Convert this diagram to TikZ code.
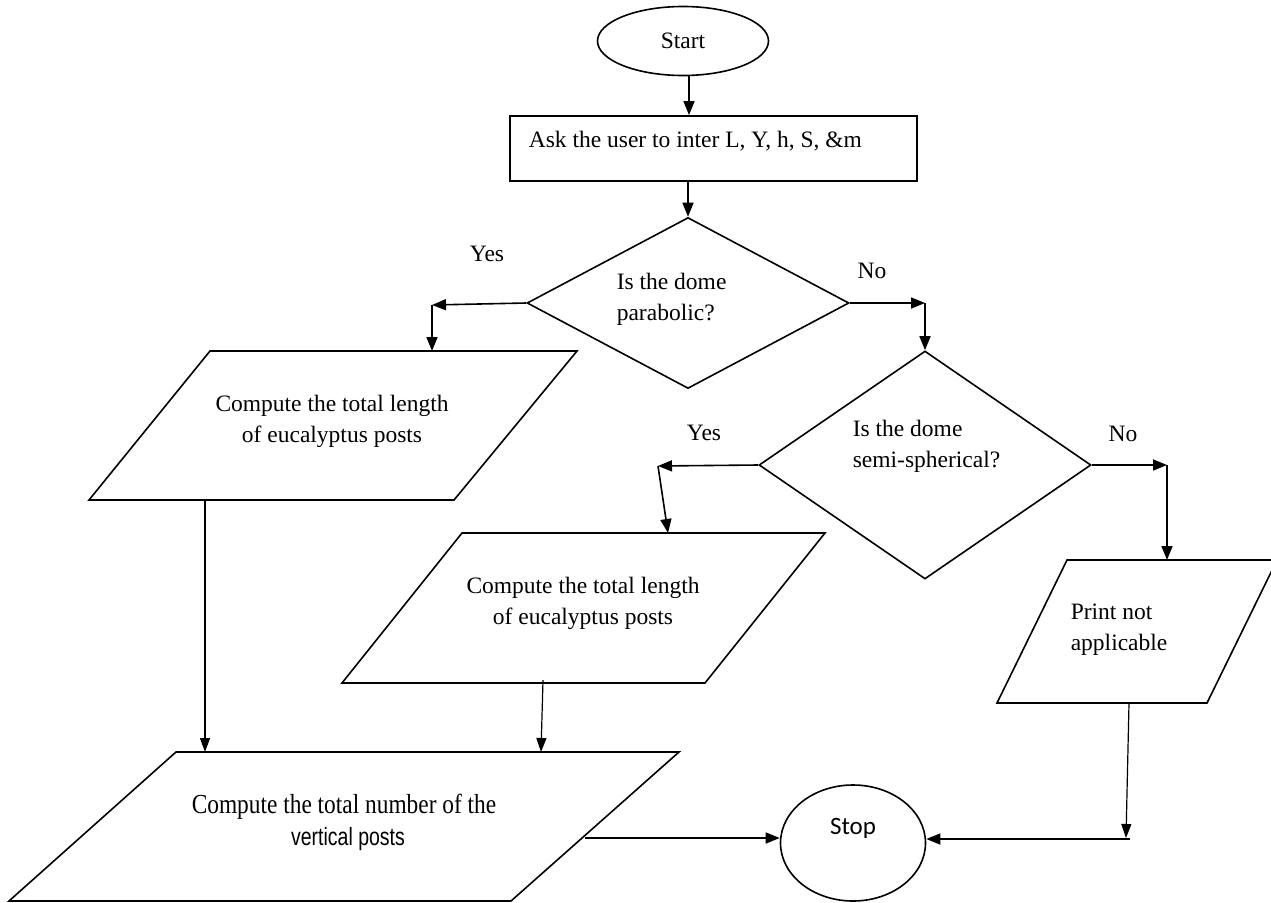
\documentclass[tikz,border=0pt]{standalone}
\usepackage{graphicx}
\usepackage{fontspec}
\setmainfont{Liberation Serif}
\newfontfamily\stopfont{Carlito}
\newfontfamily\narrowsans{Liberation Sans}
\usetikzlibrary{shapes.geometric,arrows.meta}

\begin{document}
\begin{tikzpicture}[x=1pt,y=-1pt,
  line width=1.6pt,
  every node/.style={font=\fontsize{23.5}{31}\selectfont},
  box/.style={draw, rectangle, inner sep=0pt, line width=1.8pt},
  term/.style={draw, ellipse, inner sep=0pt, line width=1.6pt},
  dec/.style={draw, diamond, inner sep=0pt, line width=1.6pt},
  lbl/.style={inner sep=0pt},
  txt/.style={inner sep=0pt, align=left},
  ctxt/.style={inner sep=0pt, align=center},
  arr/.style={-{Triangle[length=14pt,width=11pt]}, line width=1.6pt},
  thinarr/.style={-{Triangle[length=14pt,width=10pt]}, line width=1.2pt},
  pgram/.style={draw, line width=1.6pt, line join=miter}
]
\useasboundingbox (0,0) rectangle (1271,902);
\fill[white] (0,0) rectangle (1271,902);

% Start and input
\node[term, minimum width=171pt, minimum height=69pt] (start) at (683,41) {Start};
\node[box, minimum width=407pt, minimum height=65pt] (ask) at (713.5,148.5) {};
\node[lbl, anchor=base west] (asktxt) at (528,147) {Ask the user to inter L, Y, h, S, \&m};

% Decision 1
\node[dec, minimum width=322pt, minimum height=171pt] (d1) at (688,303) {};
\node[txt, anchor=west] (d1txt) at (616,299) {Is the dome\\parabolic?};
\node[lbl] (yes1) at (487,254) {Yes};
\node[lbl] (no1) at (872,271) {No};
\coordinate (y1) at (432,305);
\coordinate (n1) at (925,303);

% Parallelogram 1
\coordinate (p1a) at (210,351);
\coordinate (p1b) at (577,351);
\coordinate (p1c) at (454,500);
\coordinate (p1d) at (89,500);
\draw[pgram] (p1a) -- (p1b) -- (p1c) -- (p1d) -- cycle;
\node[ctxt] (p1txt) at (332,421) {Compute the total length\\of eucalyptus posts};
\coordinate (p1in) at (432,351);
\coordinate (p1out) at (205,500);

% Decision 2
\node[dec, minimum width=332pt, minimum height=228pt] (d2) at (925,465) {};
\node[txt, anchor=west] (d2txt) at (852,446) {Is the dome\\semi-spherical?};
\node[lbl] (yes2) at (704,433) {Yes};
\node[lbl] (no2) at (1123,434) {No};
\coordinate (y2) at (658,466);
\coordinate (n2) at (1167,465);

% Parallelogram 2
\coordinate (p2a) at (462,533);
\coordinate (p2b) at (825,533);
\coordinate (p2c) at (705,683);
\coordinate (p2d) at (342,683);
\draw[pgram] (p2a) -- (p2b) -- (p2c) -- (p2d) -- cycle;
\node[ctxt] (p2txt) at (583,603) {Compute the total length\\of eucalyptus posts};
\coordinate (p2in) at (668,533);
\coordinate (p2out) at (543,680);

% Parallelogram 3
\coordinate (p3a) at (1067,560);
\coordinate (p3b) at (1277,560);
\coordinate (p3c) at (1207,703);
\coordinate (p3d) at (997,703);
\draw[pgram] (p3a) -- (p3b) -- (p3c) -- (p3d) -- cycle;
\node[txt, anchor=west] (p3txt) at (1070,630) {Print not\\applicable};
\coordinate (p3in) at (1167,560);
\coordinate (p3out) at (1129,703);
\coordinate (c3) at (1126,838);
\coordinate (c3b) at (1130,839);

% Parallelogram 4
\coordinate (p4a) at (176,752);
\coordinate (p4b) at (679,752);
\coordinate (p4c) at (511,901);
\coordinate (p4d) at (9,901);
\draw[pgram] (p4a) -- (p4b) -- (p4c) -- (p4d) -- cycle;
\node[lbl] (p4txt1) at (344,807) {\scalebox{0.85}[1]{\fontsize{27.5}{31}\selectfont Compute the total number of the}};
\node[lbl] (p4txt2) at (348,839) {\scalebox{0.78}[1]{\narrowsans\fontsize{25}{31}\selectfont vertical posts}};
\coordinate (p4in1) at (205,752);
\coordinate (p4in2) at (541,752);
\coordinate (p4out) at (585,838);

% Stop
\node[term, minimum width=145pt, minimum height=116pt] (stop) at (853,843) {};
\node[lbl, font=\stopfont\fontsize{25}{30}\selectfont] (stoptxt) at (853,828) {Stop};

% Connectors
\draw[arr] ([xshift=6pt]start.south) -- ([xshift=6pt]start.south |- ask.north);
\draw[arr] (ask.south -| d1.north) -- (d1.north);
\draw[arr] (d1.west) -- (y1);
\draw[arr] (y1) -- (p1in);
\draw[arr] (d1.east) -- (n1);
\draw[arr] (n1) -- (d2.north);
\draw[arr] (d2.west) -- (y2);
\draw[arr] (y2) -- (p2in);
\draw[arr] (d2.east) -- (n2);
\draw[arr] (n2) -- (p3in);
\draw[thinarr] (p1out) -- (p4in1);
\draw[thinarr] (p2out) -- (p4in2);
\draw[thinarr] (p3out) -- (c3);
\draw[arr] (c3b) -- (stop.east |- c3b);
\draw[arr] (p4out) -- (stop.west |- p4out);
\end{tikzpicture}
\end{document}
